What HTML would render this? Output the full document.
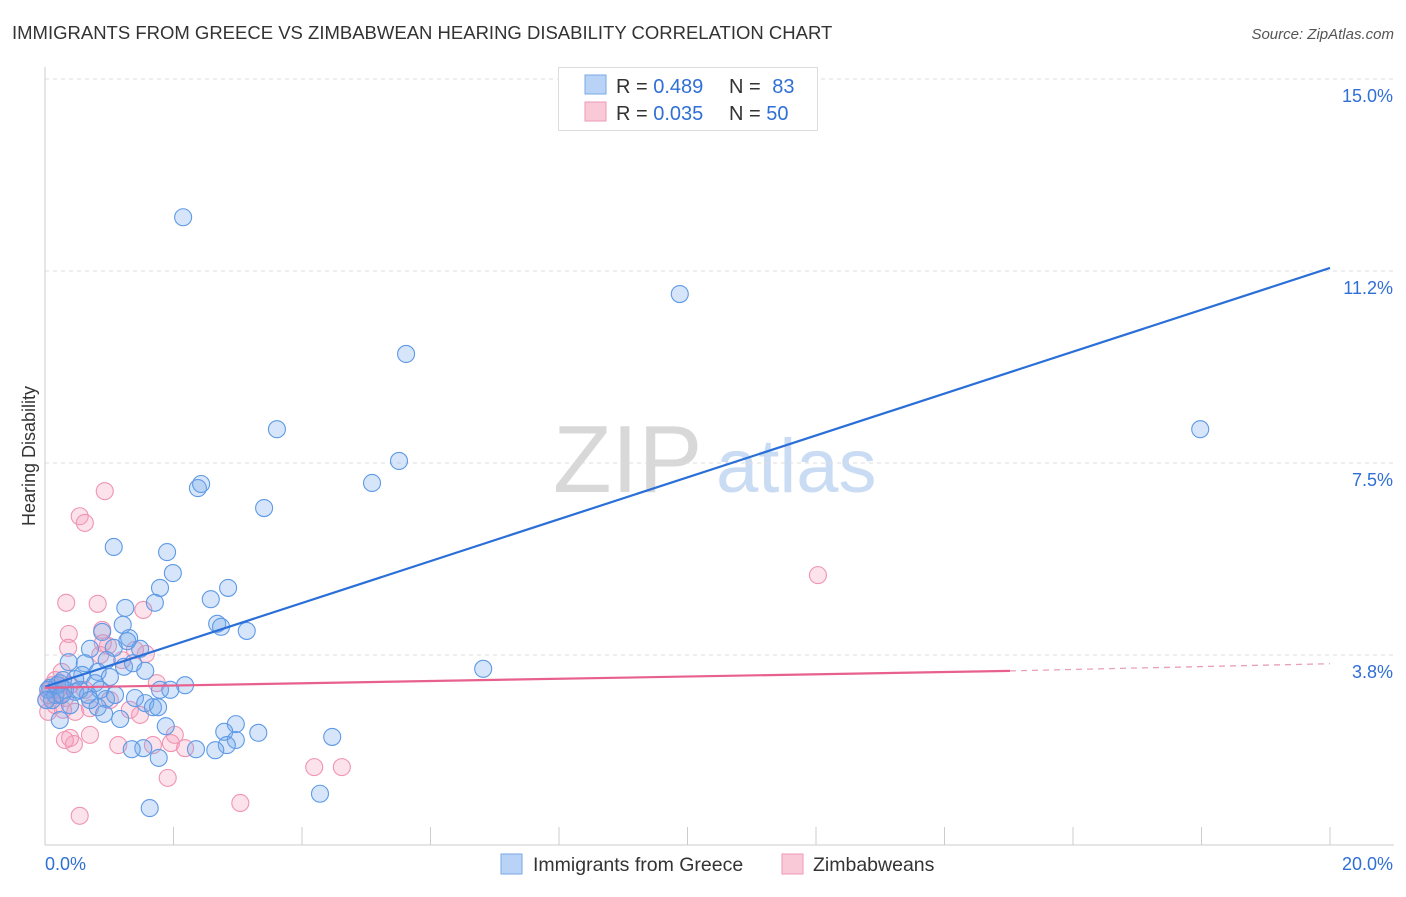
<!DOCTYPE html>
<html><head><meta charset="utf-8"><style>
body{margin:0;background:#fff;font-family:"Liberation Sans",sans-serif;}
svg text{font-family:"Liberation Sans",sans-serif;}
</style></head><body>
<svg id="chart" width="1406" height="892" xmlns="http://www.w3.org/2000/svg">
<text x="12" y="39" font-size="18.5" fill="#333">IMMIGRANTS FROM GREECE VS ZIMBABWEAN HEARING DISABILITY CORRELATION CHART</text>
<text x="1394" y="39" font-size="15" fill="#555" font-style="italic" text-anchor="end">Source: ZipAtlas.com</text>
<g>
<text x="553" y="492" font-size="96" fill="#d8d8d8" font-family="Liberation Serif">ZIP</text>
<text x="716" y="492" font-size="76" fill="#c9dcf3">atlas</text>
</g>
<g id="grid"></g>
<g id="axes"></g>
<g id="pts"></g>
<g id="trend"></g>
<text x="35" y="456" font-size="18" fill="#333" text-anchor="middle" transform="rotate(-90 35 456)">Hearing Disability</text>
<g>
<rect x="558.500" y="67.500" width="259" height="63" fill="#fff" stroke="#ddd"/>
<rect x="585" y="75" width="21" height="19" fill="#b8d3f5" stroke="#7aa9e8"/>
<text x="616" y="93" font-size="20" fill="#333">R = <tspan fill="#2f6fd6">0.489</tspan></text>
<text x="729" y="93" font-size="20" fill="#333">N = <tspan fill="#2f6fd6" dx="6">83</tspan></text>
<rect x="585" y="102" width="21" height="19" fill="#f9c9d7" stroke="#ee9ab4"/>
<text x="616" y="120" font-size="20" fill="#333">R = <tspan fill="#2f6fd6">0.035</tspan></text>
<text x="729" y="120" font-size="20" fill="#333">N = <tspan fill="#2f6fd6">50</tspan></text>
</g>
<g>
<rect x="501" y="854" width="21" height="20" fill="#b8d3f5" stroke="#7aa9e8"/>
<text x="533" y="871" font-size="19.5" fill="#333">Immigrants from Greece</text>
<rect x="782" y="854" width="21" height="20" fill="#f9c9d7" stroke="#ee9ab4"/>
<text x="813" y="871" font-size="19.5" fill="#333">Zimbabweans</text>
</g>
</svg>
<script>
const yTicks=[3.75,7.5,11.25,15];
const yTickLabels=["3.8%","7.5%","11.2%","15.0%"];
const xTickVals=[2,4,6,8,10,12,14,16,18,20];
const xEndLabels=["0.0%","20.0%"];
const greeceX=[2.15,9.88,5.62,3.61,17.98,5.51,5.09,2.38,2.43,3.41,1.07,1.90,1.99,1.79,2.85,1.71,2.58,1.25,2.68,2.74,3.14,1.21,0.89,1.31,1.07,0.70,1.48,1.28,0.37,0.62,0.96,1.23,1.37,1.56,6.82,0.82,1.01,0.58,0.47,0.78,2.18,1.79,1.95,0.23,0.08,0.16,0.31,0.47,0.67,0.95,1.40,1.56,1.68,1.76,0.82,0.92,1.17,0.23,1.88,2.97,3.32,2.79,2.97,2.83,2.65,2.35,1.53,1.35,1.77,4.47,4.28,1.63,0.05,0.11,0.19,0.02,0.39,0.54,0.28,0.86,1.09,0.70,0.26];
const greeceY=[12.30,10.80,9.63,8.16,8.16,7.54,7.11,7.01,7.09,6.62,5.86,5.76,5.35,5.06,5.06,4.77,4.84,4.67,4.36,4.30,4.22,4.34,4.20,4.08,3.89,3.87,3.87,4.02,3.61,3.59,3.65,3.52,3.59,3.44,3.48,3.42,3.32,3.36,3.28,3.20,3.16,3.07,3.07,3.20,3.11,2.97,3.07,3.03,2.97,2.89,2.91,2.81,2.73,2.73,2.73,2.60,2.50,2.48,2.36,2.40,2.23,2.25,2.09,1.99,1.89,1.91,1.93,1.91,1.74,2.15,1.04,0.76,3.07,2.87,3.16,2.87,2.77,3.07,3.26,3.07,2.97,2.87,2.97];
const zimX=[0.93,0.54,0.62,12.03,0.33,0.82,1.53,0.89,0.37,0.36,0.98,0.90,1.57,1.20,0.26,0.16,0.08,0.02,0.05,0.16,0.31,0.47,0.70,1.01,1.74,1.32,1.48,0.70,0.39,0.45,0.31,1.14,1.68,1.96,2.02,2.18,1.91,4.19,4.62,3.04,0.54,0.20,0.11,0.23,0.05,0.39,1.40,0.28,0.62,0.86];
const zimY=[6.95,6.46,6.33,5.31,4.77,4.75,4.63,4.24,4.16,3.89,3.93,3.98,3.77,3.65,3.42,3.26,3.07,2.87,2.64,2.77,2.91,2.64,2.71,2.87,3.20,2.68,2.58,2.19,2.13,2.01,2.09,1.99,1.99,2.03,2.19,1.93,1.35,1.56,1.56,0.86,0.61,3.07,3.16,2.97,2.97,3.16,3.85,2.68,3.07,3.75];
const greeceTrend=[3.13,11.31];
const zimTrend=[3.11,3.44,3.58];
const zimSolidEnd=15.02;

const X0=45,X1=1330,Y0=847,PPY=51.2;
const xs=v=>X0+(X1-X0)*v/20;
const ys=v=>Y0-v*PPY;
const NS="http://www.w3.org/2000/svg";
function mk(tag,attrs,parent){const e=document.createElementNS(NS,tag);for(const k in attrs)e.setAttribute(k,attrs[k]);document.getElementById(parent).appendChild(e);return e;}

yTicks.forEach((t,i)=>{
  const l=mk('line',{x1:X0,x2:1394,y1:ys(t),y2:ys(t),stroke:'#ddd','stroke-dasharray':'4,4'},'grid');
  
  
  const tx=mk('text',{x:1393,y:ys(t)+23,'font-size':18,fill:'#2f6fd6','text-anchor':'end'},'grid');
  tx.textContent=yTickLabels[i];
  
  
});
const ya=mk('line',{x1:X0,x2:X0,y1:67,y2:845,stroke:'#ccc'},'axes');


const xa=mk('line',{x1:X0,x2:1394,y1:845,y2:845,stroke:'#ccc'},'axes');


xTickVals.forEach(t=>{
  const l=mk('line',{x1:xs(t),x2:xs(t),y1:827,y2:845,stroke:'#ccc'},'axes');
  
  
});
const xl0=mk('text',{x:45,y:870,'font-size':18,fill:'#2f6fd6'},'axes');
xl0.textContent=xEndLabels[0];


const xl1=mk('text',{x:1393,y:870,'font-size':18,fill:'#2f6fd6','text-anchor':'end'},'axes');
xl1.textContent=xEndLabels[1];



zimX.forEach((v,i)=>{
  const c=mk('circle',{cx:xs(v),cy:ys(zimY[i]),r:8.5,fill:'rgba(245,160,190,0.3)',stroke:'#ef94b2','stroke-width':1.1},'pts');
  
  
});
greeceX.forEach((v,i)=>{
  const c=mk('circle',{cx:xs(v),cy:ys(greeceY[i]),r:8.5,fill:'rgba(120,170,235,0.3)',stroke:'#5e9ae6','stroke-width':1.1},'pts');
  
  
});
const bl=mk('line',{x1:xs(0),y1:ys(greeceTrend[0]),x2:xs(20),y2:ys(greeceTrend[1]),stroke:'#2a6fd8','stroke-width':2.2},'trend');


const pl=mk('line',{x1:xs(0),y1:ys(zimTrend[0]),x2:xs(zimSolidEnd),y2:ys(zimTrend[1]),stroke:'#e8608e','stroke-width':2.2},'trend');


const pd=mk('line',{x1:xs(zimSolidEnd),y1:ys(zimTrend[1]),x2:xs(20),y2:ys(zimTrend[2]),stroke:'#e8a0b8','stroke-width':1.3,'stroke-dasharray':'6,5'},'trend');


</script>
</body></html>
